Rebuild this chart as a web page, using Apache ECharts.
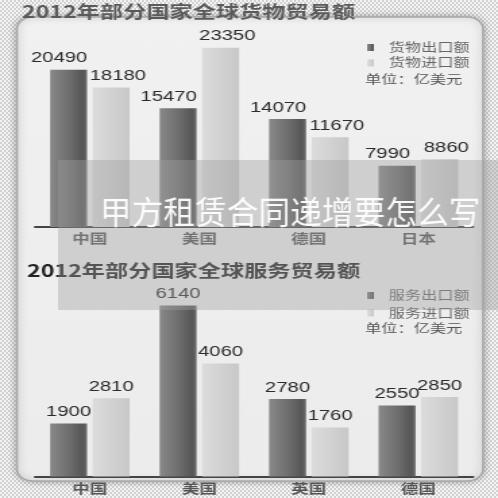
<!DOCTYPE html>
<html>
<head>
<meta charset="utf-8">
<script src="https://cdn.jsdelivr.net/npm/echarts@6/dist/echarts.min.js"></script>
<style>
html,body{margin:0;padding:0;width:498px;height:498px;overflow:hidden;
background:repeating-conic-gradient(#d2d2d2 0% 25%, #f3f3f3 0% 50%) 0 0/4px 4px;}
#c{position:absolute;left:0;top:0;width:369px;height:498px;transform:scaleX(1.3496);transform-origin:0 0;}
</style>
</head>
<body>
<div id="c"></div>
<script>
// ---- data ----
const goodsTitle = '2012年部分国家全球货物贸易额';
const serviceTitle = '2012年部分国家全球服务贸易额';
const goodsCategories = ['中国', '美国', '德国', '日本'];
const goodsExport = [20490, 15470, 14070, 7990];
const goodsImport = [18180, 23350, 11670, 8860];
const goodsNames = ['货物出口额', '货物进口额'];
const serviceCategories = ['中国', '美国', '英国', '德国'];
const serviceExport = [1900, 6140, 2780, 2550];
const serviceImport = [2810, 4060, 1760, 2850];
const serviceNames = ['服务出口额', '服务进口额'];
const unitText = '单位：亿美元';
const watermark = '甲方租赁合同递增要怎么写';

// ---- styles ----
const CJK = '"Noto Sans CJK SC", sans-serif';
const NUM = '"Liberation Sans", Arial, sans-serif';
const darkGrad = {type:'linear',x:0,y:0,x2:1,y2:0,colorStops:[
  {offset:0,color:'#898989'},{offset:0.55,color:'#6c6c6c'},{offset:0.88,color:'#565656'},{offset:1,color:'#6a6a6a'}]};
const lightGrad = {type:'linear',x:0,y:0,x2:1,y2:0,colorStops:[
  {offset:0,color:'#dcdcdc'},{offset:1,color:'#c8c8c8'}]};

function xAx(grid, cats){
  return {type:'category', gridIndex:grid, data:cats,
    axisLine:{lineStyle:{color:'#444', width:2}},
    axisTick:{inside:true, length:6, lineStyle:{color:'#444', width:1.5}},
    axisLabel:{margin:5, fontSize:13, fontWeight:'bold', color:'#555', fontFamily:CJK}};
}
function yAx(grid, max){
  return {type:'value', gridIndex:grid, min:0, max:max, show:false, splitLine:{show:false}};
}
function bar(name, data, xi, color, off){
  return {type:'bar', name:name, data:data, xAxisIndex:xi, yAxisIndex:xi,
    barWidth:27.4, barGap:'15%', itemStyle:{color:color},
    label:{show:true, position:'top', distance:4, offset:off, fontSize:15, color:'#2b2b2b', fontFamily:NUM}};
}

const chart = echarts.init(document.getElementById('c'));
chart.setOption({
  animation:false,
  backgroundColor:'transparent',
  grid:[
    {left:26, right:18.5, top:35, height:192},
    {left:26, right:18.5, top:281.5, height:195}
  ],
  xAxis:[xAx(0, goodsCategories), xAx(1, serviceCategories)],
  yAxis:[yAx(0, 25000), yAx(1, 7000)],
  legend:[
    {data:goodsNames, orient:'vertical', left:272, top:41, padding:0, itemWidth:5, itemHeight:7, itemGap:2.4,
     icon:'rect', textStyle:{fontSize:12, lineHeight:13, color:'#666', fontFamily:CJK, padding:[0,0,0,6]}},
    {data:serviceNames, orient:'vertical', left:272, top:289, padding:0, itemWidth:5, itemHeight:7, itemGap:4.5,
     icon:'rect', textStyle:{fontSize:12, lineHeight:13, color:'#666', fontFamily:CJK, padding:[0,0,0,6]}}
  ],
  series:[
    bar(goodsNames[0], goodsExport, 0, darkGrad, [-7,0]),
    bar(goodsNames[1], goodsImport, 0, lightGrad, [5,0]),
    bar(serviceNames[0], serviceExport, 1, darkGrad, [0,0]),
    bar(serviceNames[1], serviceImport, 1, lightGrad, [0,0])
  ],
  graphic:[
    {type:'rect', z:-10, shape:{x:12.6, y:17, width:345.3, height:464, r:12},
     style:{fill:{type:'linear',x:0,y:0,x2:0,y2:1,colorStops:[{offset:0,color:'#f1f1f1'},{offset:1,color:'#ececec'}]},
            stroke:'#a8a8a8', lineWidth:1.5, shadowBlur:6, shadowColor:'rgba(0,0,0,0.3)'}},
    {type:'text', z:5, x:16.3, y:11, style:{text:goodsTitle, fontSize:17.2, fontWeight:'bold', fill:'#5a5a5a',
     fontFamily:CJK, verticalAlign:'middle'}},
    {type:'text', z:5, x:20, y:270.5, style:{text:serviceTitle, fontSize:17.2, fontWeight:'bold', fill:'#222',
     fontFamily:CJK, verticalAlign:'middle'}},
    {type:'text', z:5, x:270.5, y:79, style:{text:unitText, fontSize:12, fill:'#555', fontFamily:CJK, verticalAlign:'middle'}},
    {type:'text', z:5, x:270.5, y:328, style:{text:unitText, fontSize:12, fill:'#555', fontFamily:CJK, verticalAlign:'middle'}},
    {type:'rect', z:50, shape:{x:43, y:160, width:330, height:150}, style:{fill:'rgba(160,160,160,0.4)'}},
    {type:'text', z:51, x:74, y:212, scaleY:1.35,
     style:{text:watermark, fontSize:23.5, fill:'rgba(255,255,255,0.95)', fontFamily:CJK, verticalAlign:'middle'}}
  ]
});
</script>
</body>
</html>
